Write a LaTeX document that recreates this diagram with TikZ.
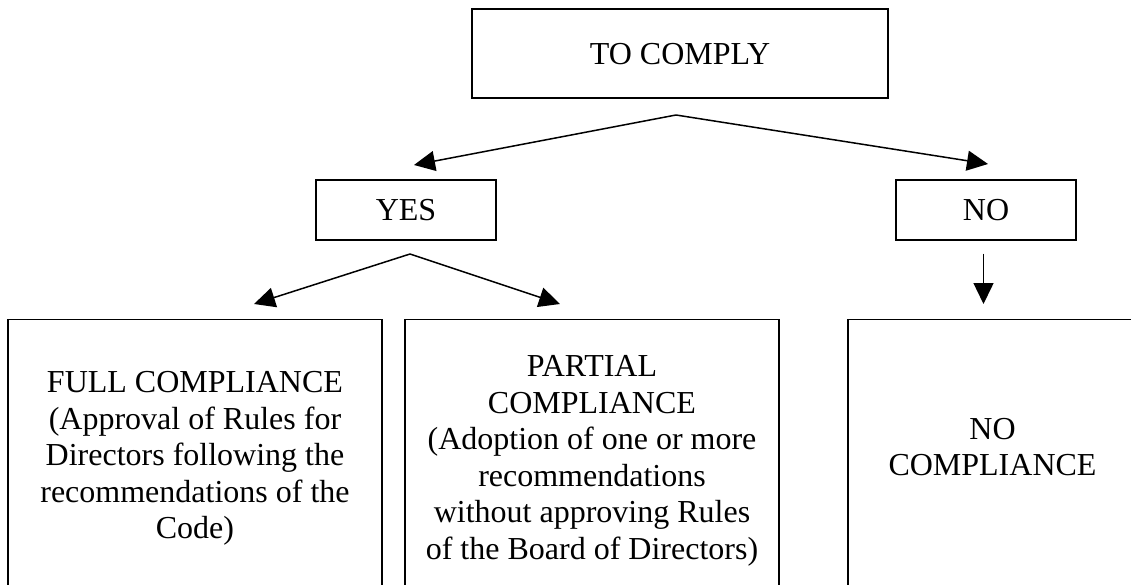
\documentclass[tikz,border=0pt]{standalone}
\usepackage{fontspec}
\setmainfont{Liberation Serif}
\usetikzlibrary{arrows.meta}
\begin{document}
\begin{tikzpicture}[x=1pt,y=-1pt,
  box/.style={draw, line width=1.6pt, inner sep=0pt, outer sep=0pt},
  txt/.style={font=\fontsize{32}{36.5}\selectfont, align=center, inner sep=0pt},
  arr/.style={line width=1.5pt, -{Triangle[length=21pt,width=20pt]}}]
\clip (0,0) rectangle (1131,585);
\fill[white] (0,0) rectangle (1131,585);
% top row boxes
\node[box, txt, minimum width=416pt, minimum height=89pt] (comply) at (680,53.7) {TO COMPLY};
\node[box, txt, minimum width=180pt, minimum height=60pt] (yes) at (406,210) {YES};
\node[box, txt, minimum width=180pt, minimum height=60pt] (no) at (986,210) {NO};
% bottom boxes (run past the lower edge)
\node[box, minimum width=374pt, minimum height=300pt, anchor=north] (fullbox) at (195,319.3) {};
\node[box, minimum width=374pt, minimum height=300pt, anchor=north] (partbox) at (592,319.3) {};
\node[box, minimum width=289pt, minimum height=300pt, anchor=north] (nocbox) at (992.5,319.3) {};
% texts of bottom boxes
\node[txt, anchor=north] (fulltxt) at (195,371.2) {FULL COMPLIANCE\\(Approval of Rules for\\Directors following the\\recommendations of the\\Code)};
\node[txt, anchor=north] (parttxt) at (592,355.5) {PARTIAL\\COMPLIANCE\\(Adoption of one or more\\recommendations\\without approving Rules\\of the Board of Directors)};
\node[txt, anchor=north] (noctxt) at (992.5,417.7) {NO\\COMPLIANCE};
% connector points
\coordinate (split1) at (676,115);
\coordinate (yestip) at (414,165);
\coordinate (notip) at (988,164);
\coordinate (split2) at (410,254);
\coordinate (fulltip) at (254,304);
\coordinate (parttip) at (560,304);
\coordinate (nostart) at (983.5,253.5);
\coordinate (noctip) at (983.5,304);
% connectors
\draw[arr] (split1) -- (yestip);
\draw[arr] (split1) -- (notip);
\draw[arr] (split2) -- (fulltip);
\draw[arr] (split2) -- (parttip);
\draw[arr] (nostart) -- (noctip);
\end{tikzpicture}
\end{document}
